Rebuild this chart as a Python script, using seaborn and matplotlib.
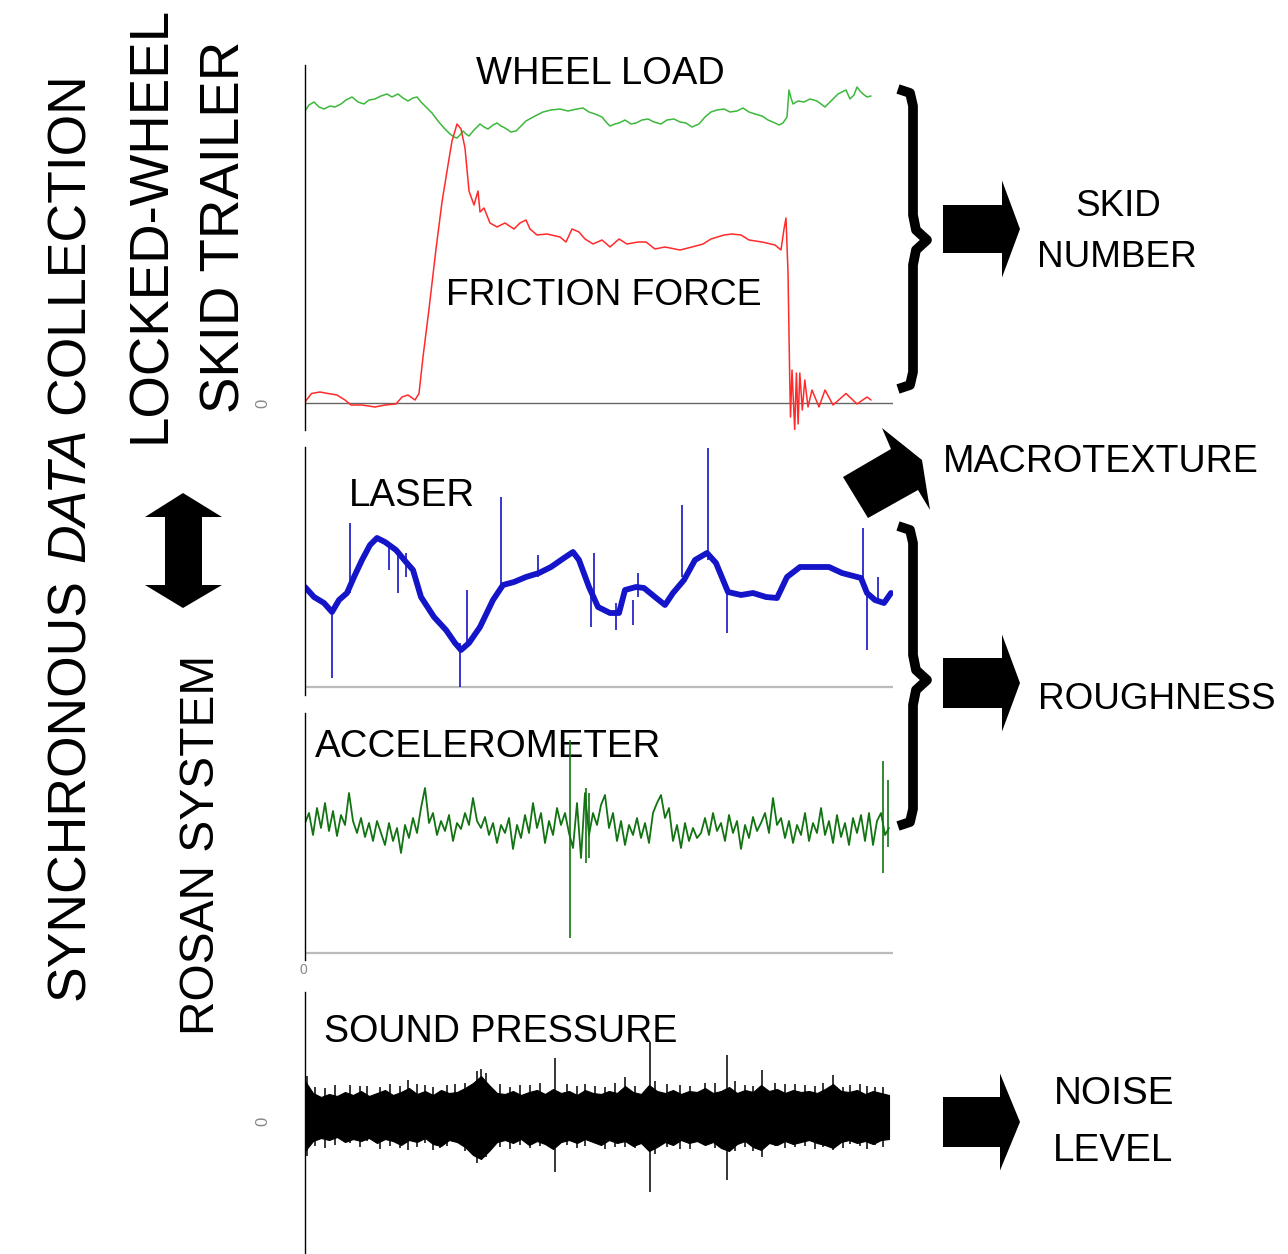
import numpy as np
import matplotlib
matplotlib.use("Agg")
import matplotlib.pyplot as plt
import seaborn as sns
from matplotlib import font_manager
from matplotlib.patches import Polygon
from matplotlib.path import Path
from matplotlib.patches import PathPatch

# ---------------- data ----------------
# top panel: distance along test section vs. signal level
LOAD_X = [0, 4, 9, 14, 19, 25, 30, 36, 41, 47, 53, 59, 64, 70, 76, 82, 87, 93, 98, 103, 108, 112, 116, 120,
          127, 133, 139, 145, 149, 152, 155, 158, 161, 164, 169, 175, 179, 183, 188, 192, 196, 200, 206,
          211, 216, 221, 230, 238, 246, 255, 263, 272, 278, 284, 290, 297, 301, 305, 310, 314, 320, 326,
          331, 337, 343, 349, 356, 362, 369, 375, 381, 387, 394, 400, 406, 412, 419, 425, 432, 438, 444,
          450, 457, 463, 470, 474, 478, 482, 484, 486, 488, 493, 499, 505, 512, 516, 520, 526, 533, 537,
          541, 545, 549, 552, 555, 558, 562, 566]
LOAD_Y = [292, 298, 301, 296, 294, 297, 296, 299, 303, 306, 301, 299, 303, 304, 307, 309, 306, 309, 305, 302,
          305, 306, 301, 297, 290, 282, 275, 269, 266, 265, 268, 272, 269, 267, 273, 279, 276, 274, 278,
          280, 277, 275, 271, 272, 277, 282, 287, 291, 293, 294, 292, 294, 295, 291, 289, 286, 281, 277,
          279, 280, 283, 279, 280, 283, 284, 281, 279, 283, 284, 281, 280, 276, 279, 286, 291, 293, 294,
          291, 292, 295, 291, 289, 287, 283, 280, 278, 280, 286, 313, 305, 299, 302, 301, 304, 302, 299,
          296, 302, 309, 311, 313, 304, 308, 316, 312, 309, 306, 307]

FRIC_X = [0, 6.5, 15, 23, 32, 40, 46, 57, 70, 80, 91, 97, 103, 110, 114, 118, 124, 131, 137, 143,
          147, 152, 156, 160, 164, 169, 173, 175, 179, 185, 192, 200, 209, 215, 221, 225, 232, 242,
          255, 261, 267, 274, 280, 288, 297, 305, 314, 322, 333, 341, 350, 360, 375, 387, 398, 406,
          419, 427, 436, 444, 457, 470, 476, 479, 481, 483, 484.7, 485.5, 487, 489.7, 491.4, 493.1,
          494.8, 497.3, 499.8, 503, 507, 514, 520, 528, 541, 552, 562, 566]
FRIC_Y = [1, 9.5, 11, 9.5, 8, 3, -2, -2, -4, -2, -1, 6, 8, 3, 9.5, 46, 94, 154, 201, 238,
          262, 279, 274, 255, 212, 198, 212, 191, 195, 180, 176, 180, 174, 180, 183, 174, 168, 169,
          166, 161, 174, 171, 164, 159, 163, 156, 164, 159, 161, 161, 154, 156, 153, 156, 159, 164,
          168, 169, 168, 163, 161, 158, 153, 174, 185, 131, 26, -14, 33, -27, 30, -21,
          30, -7, 23, -4, 13, -4, 13, -2, 9.5, -1, 6, 3]

LASER_X = [0, 9, 19, 27, 34, 42, 49, 57, 65, 72, 80, 91, 101, 108, 116, 129, 141, 150, 156, 164,
           175, 188, 198, 209, 221, 234, 246, 259, 268, 274, 284, 293, 305, 314, 320, 331, 339, 350,
           360, 368, 379, 390, 402, 411, 423, 436, 448, 461, 472, 482, 495, 512, 524, 537, 556, 562,
           570, 579, 586]
LASER_Y = [100, 90, 84, 75, 87, 94, 110, 127, 142, 149, 145, 137, 125, 117, 90, 70, 57, 44, 37, 44,
           60, 87, 102, 105, 110, 114, 120, 129, 135, 127, 100, 80, 74, 74, 97, 100, 99, 90,
           82, 94, 107, 127, 134, 124, 95, 92, 94, 90, 89, 110, 120, 120, 120, 114, 109, 94,
           87, 84, 94]
LASER_SPK_X = [27, 45, 84, 93, 101, 155, 162, 196, 233, 286, 289, 311, 328, 333, 377, 403, 422, 558, 562, 573]
LASER_SPK_LO = [9, 94, 117, 94, 110, 0, 44, 100, 110, 60, 84, 57, 62, 90, 110, 127, 54, 107, 37, 84]
LASER_SPK_HI = [75, 164, 144, 137, 134, 44, 97, 190, 132, 97, 134, 84, 87, 114, 182, 239, 97, 159, 100, 110]

ACC_Y = [130, 140, 118, 145, 125, 150, 122, 142, 117, 138, 128, 160, 132, 120, 135, 116, 130, 112, 132, 120,
         108, 130, 112, 125, 100, 128, 115, 135, 120, 145, 165, 130, 140, 118, 132, 122, 138, 112, 130, 124,
         140, 128, 155, 132, 125, 136, 118, 130, 110, 128, 120, 135, 104, 128, 115, 138, 120, 150, 125, 140,
         110, 132, 118, 145, 128, 140, 120, 105, 150, 95, 160, 118, 140, 128, 148, 158, 125, 140, 112, 132,
         108, 128, 118, 135, 115, 130, 110, 140, 150, 158, 135, 145, 112, 128, 105, 130, 112, 125, 115, 120,
         135, 118, 140, 122, 130, 112, 138, 120, 132, 104, 128, 115, 136, 122, 130, 140, 120, 155, 128, 135,
         115, 132, 110, 128, 118, 140, 112, 130, 120, 145, 118, 132, 110, 138, 116, 130, 108, 135, 120, 138,
         112, 140, 108, 132, 140, 118, 125]
ACC_STEP = 4
ACC_SPK_X = [265, 281, 284, 578, 583]
ACC_SPK_LO = [15, 90, 95, 80, 106]
ACC_SPK_HI = [213, 165, 160, 192, 173]

SND_UP = [40, 28, 24, 27, 25, 29, 26, 30, 25, 28, 31, 26, 29, 33, 27, 30, 26, 31, 28, 29,
          33, 38, 45, 36, 28, 27, 30, 26, 29, 31, 27, 32, 28, 30, 26, 31, 28, 27, 30, 28,
          35, 29, 27, 36, 30, 28, 31, 27, 30, 29, 33, 28, 30, 34, 28, 31, 29, 36, 30, 32,
          28, 31, 29, 30, 28, 32, 37, 30, 29, 31, 27, 30, 28, 26]
SND_LO = [-30, -20, -17, -19, -16, -21, -18, -20, -17, -22, -18, -20, -24, -19, -21, -17, -23, -25, -19, -21,
          -26, -34, -38, -30, -21, -19, -22, -18, -24, -20, -23, -28, -21, -19, -22, -18, -21, -24, -19, -22,
          -20, -25, -22, -30, -26, -21, -24, -19, -22, -20, -24, -21, -27, -30, -23, -20, -26, -29, -22, -24,
          -20, -23, -21, -19, -22, -24, -27, -21, -19, -22, -20, -23, -19, -18]
SND_STEP = 8
SND_SPK_X = [0, 2, 10, 20, 30, 45, 55, 62, 75, 85, 95, 103, 112, 120, 128, 135, 142, 150, 160, 172, 176,
             181, 195, 205, 215, 225, 235, 250, 262, 272, 280, 290, 300, 310, 320, 330, 345, 350, 362,
             375, 385, 400, 410, 422, 430, 440, 448, 457, 470, 480, 490, 500, 510, 518, 528, 538, 545,
             555, 562, 570, 578]
SND_SPK_LO = [-30, -35, -25, -27, -24, -22, -26, -20, -28, -25, -27, -29, -26, -22, -29, -27, -25, -20, -30,
              -42, -38, -36, -26, -28, -24, -27, -25, -51, -24, -27, -25, -22, -28, -26, -26, -27, -71,
              -33, -26, -28, -28, -24, -27, -59, -30, -26, -30, -36, -25, -27, -26, -25, -28, -26, -29,
              -27, -23, -25, -28, -24, -26]
SND_SPK_HI = [62, 45, 34, 33, 36, 36, 35, 35, 34, 37, 35, 41, 37, 36, 34, 30, 36, 37, 38, 50, 52,
              48, 37, 34, 36, 36, 38, 63, 37, 35, 37, 35, 34, 38, 44, 35, 79, 40, 37,
              36, 35, 38, 38, 66, 40, 36, 35, 51, 38, 37, 37, 36, 35, 38, 46, 34, 36,
              37, 35, 34, 34]

# ---------------- style ----------------
W, H = 1288, 1254
sns.set_style("white")
names = {f.name for f in font_manager.fontManager.ttflist}
if "Liberation Sans Narrow" in names:
    FONT, FS = "Liberation Sans Narrow", 1.0
else:
    FONT, FS = "Liberation Sans", 0.82
plt.rcParams["font.family"] = [FONT, "DejaVu Sans"]

fig = plt.figure(figsize=(W / 100, H / 100), dpi=100)
fig.patch.set_facecolor("white")

ov = fig.add_axes([0, 0, 1, 1])
ov.set_xlim(0, W)
ov.set_ylim(H, 0)
ov.axis("off")


def px_axes(left, top, right, bottom):
    ax = fig.add_axes([left / W, 1 - bottom / H, (right - left) / W, (bottom - top) / H])
    ax.set_facecolor("none")
    for s in ["top", "right", "bottom"]:
        ax.spines[s].set_visible(False)
    ax.spines["left"].set_color("black")
    ax.spines["left"].set_linewidth(1.0)
    ax.set_xlim(0, 588)
    ax.set_xticks([])
    ax.set_yticks([])
    return ax


def T(x, y, s, size, **kw):
    kw.setdefault("ha", "center")
    kw.setdefault("va", "baseline")
    return ov.text(x, y, s, fontsize=size * FS, color="black", **kw)


# ---------------- panels ----------------
ax1 = px_axes(305, 65, 893, 430)
ax1.set_ylim(-27, 338)
ax1.axhline(0, color="#666666", lw=1.0, zorder=1)
ax1.set_yticks([0])
ax1.set_yticklabels([""])
ax1.tick_params(axis="y", length=16.5, width=1.0, color="#777777")
sns.lineplot(x=LOAD_X, y=LOAD_Y, ax=ax1, color="#3cb83c", linewidth=1.1,
             estimator=None, sort=False, legend=False)
sns.lineplot(x=FRIC_X, y=FRIC_Y, ax=ax1, color="#ff2a2a", linewidth=1.1,
             estimator=None, sort=False, legend=False)

ax2 = px_axes(305, 447, 893, 695)
ax2.set_ylim(-8, 240)
ax2.axhline(0, color="#bbbbbb", lw=1.6, zorder=1)
sns.lineplot(x=LASER_X, y=LASER_Y, ax=ax2, color="#1414c8", linewidth=4.2,
             estimator=None, sort=False, legend=False)
ax2.vlines(LASER_SPK_X, LASER_SPK_LO, LASER_SPK_HI, color="#1414c8", lw=1.2)

ax3 = px_axes(305, 713, 893, 960)
ax3.set_ylim(-7, 240)
ax3.axhline(0, color="#bbbbbb", lw=1.6, zorder=1)
acc_x = np.arange(len(ACC_Y)) * ACC_STEP
sns.lineplot(x=acc_x, y=ACC_Y, ax=ax3, color="#127312", linewidth=1.3,
             estimator=None, sort=False, legend=False)
ax3.vlines(ACC_SPK_X, ACC_SPK_LO, ACC_SPK_HI, color="#127312", lw=1.2)

ax4 = px_axes(305, 992, 893, 1254)
ax4.set_ylim(-133, 129)
ax4.set_yticks([0])
ax4.set_yticklabels([""])
ax4.tick_params(axis="y", length=16, width=1.0, color="#888888")
snd_x = np.arange(len(SND_UP)) * SND_STEP
ax4.fill_between(snd_x, SND_LO, SND_UP, color="black", lw=0.8, edgecolor="black")
ax4.vlines(SND_SPK_X, SND_SPK_LO, SND_SPK_HI, color="black", lw=1.1)

# zero labels
ov.text(263, 403, "0", rotation=90, ha="center", va="center", fontsize=12, color="#888888")
ov.text(263, 1121, "0", rotation=90, ha="center", va="center", fontsize=12, color="#888888")
ov.text(303, 970, "0", ha="center", va="center", fontsize=10, color="#888888")

# ---------------- labels ----------------
T(600, 84, "WHEEL LOAD", 33.5)
T(604, 305, "FRICTION FORCE", 32.7)
T(412, 506, "LASER", 33.8)
T(488, 757, "ACCELEROMETER", 33.8)
T(501, 1042, "SOUND PRESSURE", 33)
T(1118, 216, "SKID", 32.4)
T(1117, 267, "NUMBER", 32.4)
T(1101, 472, "MACROTEXTURE", 33)
T(1157, 709, "ROUGHNESS", 32.4)
T(1114, 1104, "NOISE", 34)
T(1113, 1161, "LEVEL", 34)

rot = dict(rotation=90, rotation_mode="anchor", ha="left", va="baseline")
T(84, 1000, "SYNCHRONOUS", 47, **rot)
T(84, 562, "DATA", 47, style="italic", **rot)
T(84, 414, "COLLECTION", 47, **rot)
T(165, 443, "LOCKED-WHEEL", 48, **rot)
T(240, 413, "SKID TRAILER", 48, **rot)
T(214, 1035, "ROSAN SYSTEM", 42, **rot)

# ---------------- shapes ----------------
def brace(top, bottom, tip):
    pts = [(898, top + 1), (910, top + 5), (913, top + 18), (913, tip - 25), (916, tip - 10), (927, tip),
           (916, tip + 10), (913, tip + 25), (913, bottom - 18), (910, bottom - 5), (898, bottom - 1)]
    path = Path(pts)
    ov.add_patch(PathPatch(path, fill=False, lw=7, edgecolor="black", joinstyle="round", capstyle="butt"))


brace(88, 390, 240)
brace(525, 827, 680)


def block_arrow(x0, xb, xt, yc, body_h, head_h):
    pts = [(x0, yc - body_h / 2), (xb, yc - body_h / 2), (xb, yc - head_h / 2), (xt, yc),
           (xb, yc + head_h / 2), (xb, yc + body_h / 2), (x0, yc + body_h / 2)]
    ov.add_patch(Polygon(pts, closed=True, color="black", lw=0))


block_arrow(943, 1002, 1020, 229, 48, 97)
block_arrow(943, 1002, 1020, 683, 50, 97)
block_arrow(943, 1000, 1020, 1122, 50, 97)

ov.add_patch(Polygon([(843, 477), (891, 449), (882, 428), (922, 460), (930, 510), (918, 490), (868, 518)],
                     closed=True, color="black", lw=0))

ov.add_patch(Polygon([(183, 493), (222, 517), (202, 517), (202, 585), (222, 585), (183, 608),
                      (145, 585), (165, 585), (165, 517), (145, 517)], closed=True, color="black", lw=0))

fig.savefig("out.png", dpi=100, facecolor="white")
